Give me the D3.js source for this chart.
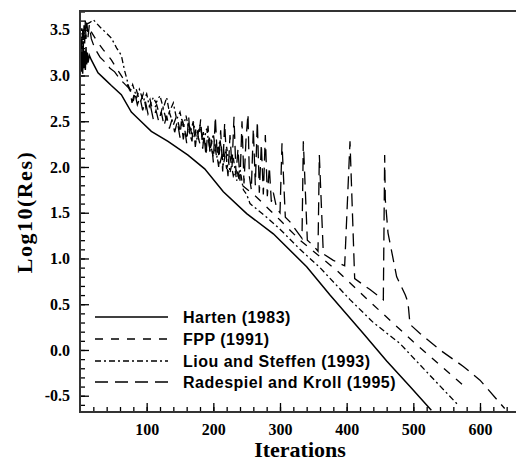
<!DOCTYPE html>
<html>
<head>
<meta charset="utf-8">
<script src="https://cdn.jsdelivr.net/npm/d3@7"></script>
<style>
  body { margin: 0; background: #fff; }
</style>
</head>
<body>
<div id="graph"></div>
<script>
const w = 516;
const h = 461;

// convergence histories, [iteration, log10(residual)]
const harten = [
  [0,3.1],[1,3.28],[2,3.04],[3,3.26],[4,3.02],[5,3.3],[6,3.08],[7,3.27],[8,3.06],[9,3.31],
  [10,3.12],[11,3.25],[12,3.14],[14,3.22],[17,3.17],[22,3.1],[27,3.03],[37,2.96],[47,2.89],
  [62,2.79],[77,2.6],[87,2.53],[107,2.39],[132,2.28],[162,2.13],[187,1.98],[215,1.73],
  [250,1.49],[290,1.27],[340,0.91],[375,0.6],[400,0.39],[425,0.18],[460,-0.12],[495,-0.4],[527,-0.66]
];

const fpp = [
  [0,3.3],[2,3.45],[4,3.32],[6,3.5],[8,3.4],[10,3.55],[12,3.46],[15,3.5],[25,3.38],[35,3.28],
  [47,3.17],[60,3.02],[70,2.91],[75,2.85],[80,2.72],[84,2.86],[90,2.7],[95,2.8],[99,2.64],
  [105,2.74],[109,2.62],[115,2.68],[120,2.55],[124,2.66],[130,2.5],[134,2.6],[140,2.46],
  [145,2.56],[150,2.4],[154,2.5],[160,2.33],[164,2.46],[170,2.3],[174,2.42],[180,2.25],
  [185,2.38],[190,2.18],[194,2.32],[200,2.1],[205,2.28],[210,2.04],[215,2.2],[220,1.98],
  [225,2.12],[230,1.9],[235,1.98],[240,1.82],[265,1.67],[300,1.42],[330,1.2],[360,1.02],
  [385,0.87],[430,0.56],[500,0.09],[577,-0.4]
];

const liou = [
  [0,3.4],[3,3.52],[6,3.45],[10,3.56],[15,3.58],[20,3.61],[30,3.53],[40,3.46],[47,3.41],
  [55,3.3],[62,3.22],[67,3.05],[70,2.97],[75,2.82],[79,2.9],[85,2.76],[89,2.85],[95,2.72],
  [100,2.8],[104,2.66],[110,2.76],[114,2.7],[120,2.78],[125,2.64],[130,2.76],[134,2.6],
  [140,2.7],[145,2.52],[150,2.6],[155,2.44],[159,2.56],[165,2.36],[170,2.5],[175,2.3],
  [180,2.46],[185,2.26],[190,2.42],[195,2.18],[200,2.36],[205,2.1],[210,2.3],[215,2.02],
  [220,2.22],[225,1.94],[230,2.1],[235,1.85],[240,1.98],[245,1.75],[250,1.7],[255,1.6],
  [280,1.45],[300,1.32],[330,1.1],[360,0.9],[405,0.55],[440,0.3],[480,0.07],[520,-0.24],[567,-0.6]
];

const radespiel = [
  [0,3.15],[2,3.4],[3,3.2],[4,3.5],[5,3.3],[6,3.55],[7,3.35],[8,3.6],[9,3.4],[10,3.58],
  [12,3.42],[14,3.55],[17,3.4],[22,3.3],[30,3.2],[37,3.15],[45,3.08],[52,3.04],[60,2.96],
  [68,2.9],[75,2.85],[78,2.7],[82,2.82],[86,2.68],[90,2.76],[94,2.62],[98,2.72],[102,2.58],
  [106,2.66],[110,2.52],[114,2.62],[118,2.5],[122,2.6],[126,2.45],[130,2.56],[134,2.42],
  [138,2.52],[142,2.38],[146,2.5],[150,2.32],[152,2.5],[155,2.3],[157,2.42],[160,2.26],
  [163,2.55],[165,2.35],[168,2.28],[170,2.48],[173,2.22],[176,2.4],[178,2.3],[181,2.52],
  [184,2.2],[186,2.35],[189,2.12],[192,2.45],[195,2.15],[197,2.3],[200,2.05],[203,2.55],
  [206,2.1],[208,2.0],[211,2.4],[214,1.95],[217,2.48],[220,2.05],[222,1.9],[225,2.35],
  [228,2.0],[231,2.55],[234,1.92],[237,2.2],[240,1.85],[243,2.5],[246,1.82],[249,2.3],
  [252,2.58],[254,1.9],[257,1.75],[260,2.42],[263,1.8],[266,2.5],[269,1.72],[272,2.25],
  [275,1.7],[278,2.35],[281,1.68],[284,2.0],[287,1.62],[290,1.72],[295,1.55],[300,1.5],
  [303,2.26],[308,1.45],[315,1.4],[325,1.3],[333,1.22],[335,2.28],[341,1.2],[350,1.14],
  [357,1.08],[359,2.13],[365,1.05],[380,0.98],[397,0.92],[405,2.28],[412,0.78],[435,0.66],
  [455,0.55],[457,2.13],[458,1.64],[462,1.28],[475,0.8],[488,0.6],[492,0.52],[495,0.28],
  [510,0.18],[540,0.0],[575,-0.18],[600,-0.33],[637,-0.64]
];

const seriesNames = ['Harten (1983)', 'FPP (1991)', 'Liou and Steffen (1993)', 'Radespiel and Kroll (1995)'];
const seriesData = [harten, fpp, liou, radespiel];
const seriesDash = ['none', '8,8', '6,3,2,3', '13,7'];

const xMajor = [100, 200, 300, 400, 500, 600];
const xMinor = d3.range(20, 660, 20);
const yMajor = [-0.5, 0.0, 0.5, 1.0, 1.5, 2.0, 2.5, 3.0, 3.5];
const yMinor = d3.range(-6, 38).map(d => d / 10);

const plotLeft = 80, plotRight = 516, plotTop = 11, plotBottom = 412;

const xScale = d3.scaleLinear()
                 .domain([0, 654])
                 .range([plotLeft, plotRight]);

const yScale = d3.scaleLinear()
                 .domain([-0.678, 3.705])
                 .range([plotBottom, plotTop]);

const svg = d3.select('#graph')
              .append('svg')
              .attr('width', w)
              .attr('height', h);

svg.append('defs').append('clipPath')
   .attr('id', 'plotclip')
   .append('rect')
   .attr('x', plotLeft).attr('y', plotTop)
   .attr('width', plotRight - plotLeft).attr('height', plotBottom - plotTop);

const line = d3.line()
               .x((d) => xScale(d[0]))
               .y((d) => yScale(d[1]));

seriesData.forEach(function (s, i) {
  svg.append('path')
     .datum(s)
     .attr('clip-path', 'url(#plotclip)')
     .attr('fill', 'none')
     .attr('stroke', '#000')
     .attr('stroke-width', i === 0 ? 1.5 : 1.3)
     .attr('stroke-dasharray', seriesDash[i])
     .attr('d', line);
});

// minor ticks (inside)
svg.append('g')
   .attr('transform', 'translate(0,' + plotBottom + ')')
   .call(d3.axisBottom(xScale).tickValues(xMinor).tickSizeInner(-5).tickSizeOuter(0).tickFormat(''))
   .call(g => g.select('.domain').remove());

svg.append('g')
   .attr('transform', 'translate(' + plotLeft + ',0)')
   .call(d3.axisLeft(yScale).tickValues(yMinor).tickSizeInner(-5).tickSizeOuter(0).tickFormat(''))
   .call(g => g.select('.domain').remove());

// major ticks + labels
svg.append('g')
   .attr('transform', 'translate(0,' + plotBottom + ')')
   .style('font-family', '"Liberation Serif", serif')
   .style('font-weight', 'bold')
   .style('font-size', '16px')
   .call(d3.axisBottom(xScale).tickValues(xMajor).tickSizeInner(-9).tickSizeOuter(0).tickPadding(12))
   .call(g => g.select('.domain').remove());

svg.append('g')
   .attr('transform', 'translate(' + plotLeft + ',0)')
   .style('font-family', '"Liberation Serif", serif')
   .style('font-weight', 'bold')
   .style('font-size', '16px')
   .call(d3.axisLeft(yScale).tickValues(yMajor).tickSizeInner(-9).tickSizeOuter(0).tickPadding(10)
           .tickFormat(d => d.toFixed(1)))
   .call(g => g.select('.domain').remove());

svg.selectAll('.tick line').attr('stroke', '#000').attr('stroke-width', 1.3);
svg.selectAll('.tick text').attr('fill', '#000');

// frame
svg.append('path')
   .attr('d', 'M' + plotRight + ',' + plotTop + 'H' + plotLeft + 'V' + plotBottom + 'H' + plotRight)
   .attr('fill', 'none')
   .attr('stroke', '#333')
   .attr('stroke-width', 2);

// axis titles
svg.append('text')
   .attr('x', 300)
   .attr('y', 457)
   .attr('text-anchor', 'middle')
   .style('font-family', '"Liberation Serif", serif')
   .style('font-weight', 'bold')
   .style('font-size', '22px')
   .text('Iterations');

svg.append('text')
   .attr('text-anchor', 'middle')
   .attr('transform', 'translate(32,212)rotate(-90)')
   .style('font-family', '"Liberation Serif", serif')
   .style('font-weight', 'bold')
   .style('font-size', '22px')
   .style('letter-spacing', '1.5px')
   .text('Log10(Res)');

// legend
const legendY = [317, 339, 361, 382];
seriesNames.forEach(function (name, i) {
  svg.append('line')
     .attr('x1', 95).attr('x2', 168)
     .attr('y1', legendY[i]).attr('y2', legendY[i])
     .attr('stroke', '#000')
     .attr('stroke-width', 1.5)
     .attr('stroke-dasharray', seriesDash[i]);
  svg.append('text')
     .attr('x', 183)
     .attr('y', legendY[i])
     .attr('dy', '0.36em')
     .style('font-family', '"Liberation Sans", Arial, sans-serif')
     .style('font-weight', 'bold')
     .style('font-size', '16px')
     .style('letter-spacing', '0.5px')
     .text(name);
});
</script>
</body>
</html>
